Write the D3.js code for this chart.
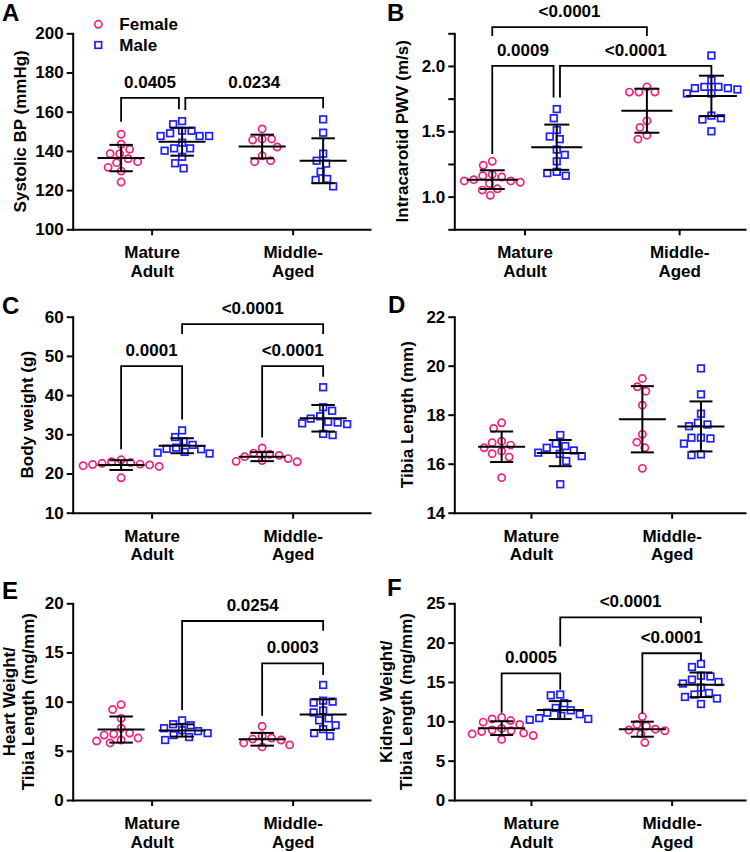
<!DOCTYPE html>
<html><head><meta charset="utf-8">
<script src="https://cdn.jsdelivr.net/npm/d3@7"></script>
<style>
body{margin:0;background:#fff;}
svg text{font-family:"Liberation Sans",Arial,Helvetica,sans-serif;font-weight:bold;fill:#000;}
</style></head><body>
<svg id="chart" width="750" height="852"></svg>
<script>
// ---------- DATA ----------
const categories = ["Mature Adult", "Middle-Aged"];
const categoryLines = {"Mature Adult": ["Mature", "Adult"], "Middle-Aged": ["Middle-", "Aged"]};
const sexes = ["Female", "Male"];

// A: Systolic BP (mmHg)
const sbpFemaleMature = [148.5, 143.4, 140.8, 138.6, 138.6, 136.0, 134.5, 134.0, 131.6, 129.7, 124.1];
const sbpMaleMature = [155.2, 153.6, 150.3, 150.3, 149.0, 147.6, 147.6, 147.6, 144.2, 141.3, 141.3, 140.1, 137.0, 133.7, 131.1];
const sbpFemaleMiddle = [151.2, 146.1, 146.1, 145.5, 142.0, 137.5, 135.0, 134.5];
const sbpMaleMiddle = [156.1, 149.3, 138.6, 135.0, 133.5, 129.4, 125.7, 125.2, 121.9];
const sbpTicks = [100, 120, 140, 160, 180, 200];
const sbpTickLabels = ["100", "120", "140", "160", "180", "200"];
const sbpBrackets = [
  {label: "0.0405", from: 0, to: 1, level: 167.1, ends: [154.9, 161.2]},
  {label: "0.0234", from: 1, to: 3, level: 167.1, ends: [160.9, 161.7]}
];

// B: Intracarotid PWV (m/s)
const pwvFemaleMature = [1.27, 1.24, 1.17, 1.16, 1.15, 1.13, 1.12, 1.12, 1.11, 1.10, 1.06, 1.05, 1.01];
const pwvMaleMature = [1.67, 1.60, 1.51, 1.46, 1.44, 1.36, 1.32, 1.27, 1.19, 1.18, 1.16];
const pwvFemaleMiddle = [1.84, 1.80, 1.80, 1.80, 1.58, 1.53, 1.47, 1.44];
const pwvMaleMiddle = [2.08, 1.89, 1.84, 1.84, 1.83, 1.83, 1.82, 1.79, 1.79, 1.62, 1.60, 1.59, 1.50];
const pwvTicks = [0.75, 1.0, 1.25, 1.5, 1.75, 2.0, 2.25];
const pwvTickLabels = ["", "1.0", "", "1.5", "", "2.0", ""];
const pwvBrackets = [
  {label: "<0.0001", from: 0, to: 2, level: 2.298, ends: [2.229, 2.229]},
  {label: "0.0009", from: 0, to: 1, level: 2.0, ends: [1.326, 1.758]},
  {label: "<0.0001", from: 1, to: 3, level: 2.0, ends: [1.758, 1.924]}
];

// C: Body weight (g)
const bwFemaleMature = [23.5, 23.0, 22.8, 22.6, 22.4, 22.3, 22.2, 22.0, 21.8, 18.9];
const bwMaleMature = [31.0, 29.3, 28.2, 27.3, 26.6, 26.3, 26.2, 25.5, 25.3, 25.1];
const bwFemaleMiddle = [26.5, 25.2, 24.9, 24.6, 24.3, 23.8, 23.3, 23.1, 23.0];
const bwMaleMiddle = [42.0, 36.9, 36.0, 34.6, 34.0, 33.2, 33.0, 32.8, 32.6, 30.1, 29.8];
const bwTicks = [10, 20, 30, 40, 50, 60];
const bwTickLabels = ["10", "20", "30", "40", "50", "60"];
const bwBrackets = [
  {label: "0.0001", from: 0, to: 1, level: 47.4, ends: [26.2, 33.8]},
  {label: "<0.0001", from: 1, to: 3, level: 58.1, ends: [55.6, 55.6]},
  {label: "<0.0001", from: 2, to: 3, level: 47.4, ends: [29.2, 44.7]}
];

// D: Tibia Length (mm)
const tlFemaleMature = [17.67, 17.44, 16.92, 16.86, 16.76, 16.65, 16.51, 16.41, 16.27, 15.43];
const tlMaleMature = [17.17, 16.82, 16.72, 16.65, 16.54, 16.45, 16.40, 16.31, 16.11, 15.16];
const tlFemaleMiddle = [19.48, 19.14, 18.96, 18.39, 17.20, 16.88, 16.65, 15.81];
const tlMaleMiddle = [19.89, 18.83, 18.04, 17.67, 17.60, 17.53, 17.06, 17.06, 17.03, 16.82, 16.38, 16.35];
const tlTicks = [14, 16, 18, 20, 22];
const tlTickLabels = ["14", "16", "18", "20", "22"];
const tlBrackets = [];

// E: Heart Weight / Tibia Length (mg/mm)
const hwFemaleMature = [9.7, 9.2, 8.3, 7.3, 6.8, 6.7, 6.6, 6.3, 6.1, 6.0, 5.8];
const hwMaleMature = [8.1, 7.7, 7.6, 7.3, 7.1, 7.0, 6.8, 6.6, 6.4, 6.1];
const hwFemaleMiddle = [7.5, 6.5, 6.3, 6.2, 6.1, 5.8, 5.6, 5.4];
const hwMaleMiddle = [11.7, 10.1, 10.0, 9.9, 9.1, 8.9, 8.3, 8.1, 7.6, 7.2, 6.8, 6.5];
const hwTicks = [0, 5, 10, 15, 20];
const hwTickLabels = ["0", "5", "10", "15", "20"];
const hwBrackets = [
  {label: "0.0254", from: 1, to: 3, level: 18.2, ends: [9.15, 17.2]},
  {label: "0.0003", from: 2, to: 3, level: 13.9, ends: [8.57, 12.7]}
];

// F: Kidney Weight / Tibia Length (mg/mm)
const kwFemaleMature = [10.5, 10.3, 10.1, 9.9, 9.6, 9.1, 8.9, 8.8, 8.7, 8.5, 8.4, 8.2, 7.7];
const kwMaleMature = [13.4, 13.3, 12.3, 11.7, 11.4, 11.1, 10.9, 10.7, 10.4, 10.3, 10.2];
const kwFemaleMiddle = [10.6, 9.6, 9.4, 9.0, 8.9, 8.8, 8.4, 7.3];
const kwMaleMiddle = [17.3, 16.9, 15.8, 15.7, 15.3, 15.0, 14.8, 14.3, 13.6, 13.4, 13.1, 12.9, 12.2];
const kwTicks = [0, 5, 10, 15, 20, 25];
const kwTickLabels = ["0", "5", "10", "15", "20", "25"];
const kwBrackets = [
  {label: "<0.0001", from: 1, to: 3, level: 23.2, ends: [19.5, 22.5]},
  {label: "0.0005", from: 0, to: 1, level: 16.1, ends: [11.1, 14.0]},
  {label: "<0.0001", from: 2, to: 3, level: 18.65, ends: [11.0, 17.8]}
];

// ---------- LAYOUT ----------
const FS = 17;
const PINK = "#f5207a", BLUE = "#1e1eff";
const LEFT = {l: 72.7, r: 370, xPad: 0.554, align: 0.505, sub: 61};
const RIGHT = {l: 454.3, r: 745, xPad: 0.533, align: 0.511, sub: 58.6};
const ROWS = [{t: 33.3, b: 229.3}, {t: 316.7, b: 512.7}, {t: 603.3, b: 800}];

const panels = [
  {letter: "A", lx: 2, ly: 20.5, title: ["Systolic BP (mmHg)"], tx: [26],
   groups: [sbpFemaleMature, sbpMaleMature, sbpFemaleMiddle, sbpMaleMiddle],
   domain: [100, 200], ticks: sbpTicks, tickLabels: sbpTickLabels, brackets: sbpBrackets,
   col: LEFT, row: ROWS[0], meanW: 47, capW: 23.5, legend: true},
  {letter: "B", lx: 387, ly: 20.5, title: ["Intracarotid PWV (m/s)"], tx: [408],
   groups: [pwvFemaleMature, pwvMaleMature, pwvFemaleMiddle, pwvMaleMiddle],
   domain: [0.75, 2.25], ticks: pwvTicks, tickLabels: pwvTickLabels, brackets: pwvBrackets,
   col: {l: 454.3, r: 745, xPad: 0.44, align: 0.516, sub: 64.5}, row: ROWS[0], meanW: 51, capW: 25},
  {letter: "C", lx: 2, ly: 313.5, title: ["Body weight (g)"], tx: [33],
   groups: [bwFemaleMature, bwMaleMature, bwFemaleMiddle, bwMaleMiddle],
   domain: [10, 60], ticks: bwTicks, tickLabels: bwTickLabels, brackets: bwBrackets,
   col: LEFT, row: ROWS[1], meanW: 47, capW: 23.5},
  {letter: "D", lx: 388, ly: 312.5, title: ["Tibia Length (mm)"], tx: [413],
   groups: [tlFemaleMature, tlMaleMature, tlFemaleMiddle, tlMaleMiddle],
   domain: [14, 22], ticks: tlTicks, tickLabels: tlTickLabels, brackets: tlBrackets,
   col: RIGHT, row: ROWS[1], meanW: 47, capW: 23},
  {letter: "E", lx: 2, ly: 598.5, title: ["Heart Weight/", "Tibia Length (mg/mm)"], tx: [15, 33.5],
   groups: [hwFemaleMature, hwMaleMature, hwFemaleMiddle, hwMaleMiddle],
   domain: [0, 20], ticks: hwTicks, tickLabels: hwTickLabels, brackets: hwBrackets,
   col: LEFT, row: ROWS[2], meanW: 47, capW: 23.5},
  {letter: "F", lx: 387, ly: 595.5, title: ["Kidney Weight/", "Tibia Length (mg/mm)"], tx: [392, 412],
   groups: [kwFemaleMature, kwMaleMature, kwFemaleMiddle, kwMaleMiddle],
   domain: [0, 25], ticks: kwTicks, tickLabels: kwTickLabels, brackets: kwBrackets,
   col: RIGHT, row: ROWS[2], meanW: 47, capW: 23}
];

const svg = d3.select("#chart");

function swarmOffsets(values, y, diam) {
  const order = d3.range(values.length).sort((a, b) => d3.descending(values[a], values[b]));
  const placed = [];
  const off = new Array(values.length);
  order.forEach((i, j) => {
    const yi = y(values[i]);
    const sgn = j % 2 === 0 ? 1 : -1;
    let chosen = 0;
    for (let k = 0; k < 600; k++) {
      const m = Math.ceil(k / 2) * 0.5;
      const cand = k === 0 ? 0 : (k % 2 === 1 ? sgn * m : -sgn * m);
      if (placed.every(p => Math.hypot(p.x - cand, p.y - yi) >= diam)) { chosen = cand; break; }
    }
    placed.push({x: chosen, y: yi});
    off[i] = chosen;
  });
  return off;
}

function drawPanel(p) {
  const g = svg.append("g");
  const y = d3.scaleLinear().domain(p.domain).range([p.row.b, p.row.t]);
  const x = d3.scalePoint().domain(categories).range([p.col.l, p.col.r]).padding(p.col.xPad).align(p.col.align);
  const xs = d3.scalePoint().domain(sexes).range([-p.col.sub / 2, p.col.sub / 2]);
  const cols = [];
  categories.forEach((c, ci) => sexes.forEach((s, si) => {
    cols.push({cat: c, sex: s, values: p.groups[ci * 2 + si], cx: x(c) + xs(s)});
  }));

  // Y axis
  const yAxis = d3.axisLeft(y).tickValues(p.ticks)
    .tickFormat(d => p.tickLabels[p.ticks.indexOf(d)])
    .tickSize(6).tickSizeOuter(0).tickPadding(3);
  const gy = g.append("g").attr("transform", `translate(${p.col.l},0)`).call(yAxis);
  gy.attr("font-size", null).attr("font-family", null);
  gy.select(".domain").attr("stroke-width", 2).attr("stroke-linecap", "square");
  gy.selectAll(".tick line").attr("stroke-width", 2);
  gy.selectAll(".tick text").attr("font-size", FS);

  // X axis
  const xAxis = d3.axisBottom(x).tickSize(6).tickSizeOuter(0).tickFormat("");
  const gx = g.append("g").attr("transform", `translate(0,${p.row.b})`).call(xAxis);
  gx.attr("font-size", null).attr("font-family", null);
  gx.select(".domain").attr("stroke-width", 2).attr("stroke-linecap", "square");
  gx.selectAll(".tick line").attr("stroke-width", 2);
  gx.selectAll(".tick text").remove();
  gx.selectAll(".tick").each(function (d) {
    const t = d3.select(this).append("text").attr("text-anchor", "middle").attr("font-size", FS);
    categoryLines[d].forEach((ln, k) => t.append("tspan").attr("x", 0).attr("y", 29 + k * 18.5).text(ln));
  });

  // Y title
  const yc = (p.row.t + p.row.b) / 2;
  p.title.forEach((ln, k) => {
    g.append("text").attr("transform", `translate(${p.tx[k]},${yc}) rotate(-90)`)
      .attr("text-anchor", "middle").attr("font-size", FS).text(ln);
  });

  // Panel letter
  g.append("text").attr("x", p.lx).attr("y", p.ly).attr("font-size", 24).text(p.letter);

  // Points
  cols.forEach(c => {
    const off = swarmOffsets(c.values, y, 9.5);
    const color = c.sex === "Female" ? PINK : BLUE;
    if (c.sex === "Female") {
      g.append("g").selectAll("circle").data(c.values).join("circle")
        .attr("cx", (d, i) => c.cx + off[i]).attr("cy", d => y(d)).attr("r", 3.6)
        .attr("fill", "none").attr("stroke", color).attr("stroke-width", 1.7);
    } else {
      g.append("g").selectAll("rect").data(c.values).join("rect")
        .attr("x", (d, i) => c.cx + off[i] - 3.3).attr("y", d => y(d) - 3.3)
        .attr("width", 6.6).attr("height", 6.6)
        .attr("fill", "none").attr("stroke", color).attr("stroke-width", 1.7);
    }
  });

  // Mean +/- SD
  cols.forEach(c => {
    const m = d3.mean(c.values), sd = d3.deviation(c.values);
    const gl = g.append("g").attr("stroke", "#000").attr("stroke-width", 2);
    gl.append("line").attr("x1", c.cx - p.meanW / 2).attr("x2", c.cx + p.meanW / 2).attr("y1", y(m)).attr("y2", y(m));
    gl.append("line").attr("x1", c.cx).attr("x2", c.cx).attr("y1", y(m - sd)).attr("y2", y(m + sd));
    [m - sd, m + sd].forEach(v => gl.append("line").attr("x1", c.cx - p.capW / 2).attr("x2", c.cx + p.capW / 2).attr("y1", y(v)).attr("y2", y(v)));
  });

  // Brackets
  const dx = p.brackets.map(() => [0, 0]);
  p.brackets.forEach((a, i) => p.brackets.forEach((b, j) => {
    if (i !== j && a.level === b.level && a.to === b.from) { dx[i][1] = -3.2; dx[j][0] = 3.2; }
  }));
  p.brackets.forEach((b, i) => {
    const x1 = cols[b.from].cx + dx[i][0], x2 = cols[b.to].cx + dx[i][1];
    const yl = y(b.level);
    g.append("path").attr("d", `M${x1},${y(b.ends[0])}V${yl}H${x2}V${y(b.ends[1])}`)
      .attr("fill", "none").attr("stroke", "#000").attr("stroke-width", 1.8);
    g.append("text").attr("x", (x1 + x2) / 2).attr("y", yl - 10).attr("text-anchor", "middle")
      .attr("font-size", FS).text(b.label);
  });

  // Legend
  if (p.legend) {
    const lg = g.append("g");
    lg.append("circle").attr("cx", 98.3).attr("cy", 24.3).attr("r", 3.6)
      .attr("fill", "none").attr("stroke", PINK).attr("stroke-width", 1.7);
    lg.append("text").attr("x", 119.3).attr("y", 29.8).attr("font-size", FS).text(sexes[0]);
    lg.append("rect").attr("x", 98.3 - 3.3).attr("y", 45 - 3.3).attr("width", 6.6).attr("height", 6.6)
      .attr("fill", "none").attr("stroke", BLUE).attr("stroke-width", 1.7);
    lg.append("text").attr("x", 119.3).attr("y", 50.7).attr("font-size", FS).text(sexes[1]);
  }
}

panels.forEach(drawPanel);
</script>
</body></html>
